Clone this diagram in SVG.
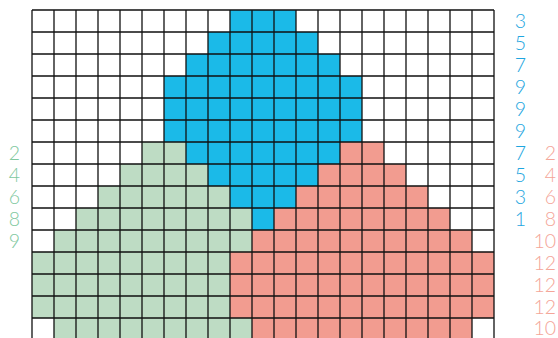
<svg xmlns="http://www.w3.org/2000/svg" width="558" height="338" viewBox="0 0 558 338">
<style>
.b{fill:#1BBAE8}
.g{fill:#BEDCC4}
.r{fill:#F29C90}
.grid{fill:none;stroke:#111;stroke-width:1.3}
text{font-family:"Lato","Liberation Sans",sans-serif;font-weight:300;font-size:19.5px;text-anchor:end}
.tb{fill:#1EA6E0}
.tg{fill:#80C89E}
.tr{fill:#F4A598}
</style>
<rect width="558" height="338" fill="#fff"/>
<g id="blue">
<rect class="b" x="230" y="10" width="66" height="22"/>
<rect class="b" x="208" y="32" width="110" height="22"/>
<rect class="b" x="186" y="54" width="154" height="22"/>
<rect class="b" x="164" y="76" width="198" height="66"/>
<rect class="b" x="186" y="142" width="154" height="22"/>
<rect class="b" x="208" y="164" width="110" height="22"/>
<rect class="b" x="230" y="186" width="66" height="22"/>
<rect class="b" x="252" y="208" width="22" height="22"/>
</g>
<g id="green">
<rect class="g" x="142" y="142" width="44" height="22"/>
<rect class="g" x="120" y="164" width="88" height="22"/>
<rect class="g" x="98" y="186" width="132" height="22"/>
<rect class="g" x="76" y="208" width="176" height="22"/>
<rect class="g" x="54" y="230" width="198" height="22"/>
<rect class="g" x="32" y="252" width="198" height="66"/>
<rect class="g" x="54" y="318" width="198" height="22"/>
</g>
<g id="red">
<rect class="r" x="340" y="142" width="44" height="22"/>
<rect class="r" x="318" y="164" width="88" height="22"/>
<rect class="r" x="296" y="186" width="132" height="22"/>
<rect class="r" x="274" y="208" width="176" height="22"/>
<rect class="r" x="252" y="230" width="220" height="22"/>
<rect class="r" x="230" y="252" width="264" height="66"/>
<rect class="r" x="252" y="318" width="220" height="22"/>
</g>
<g id="grid">
<path class="grid" d="M32 10V338M54 10V338M76 10V338M98 10V338M120 10V338M142 10V338M164 10V338M186 10V338M208 10V338M230 10V338M252 10V338M274 10V338M296 10V338M318 10V338M340 10V338M362 10V338M384 10V338M406 10V338M428 10V338M450 10V338M472 10V338M494 10V338
M32 10H494M32 32H494M32 54H494M32 76H494M32 98H494M32 120H494M32 142H494M32 164H494M32 186H494M32 208H494M32 230H494M32 252H494M32 274H494M32 296H494M32 318H494"/>
</g>
<g id="labels-blue" class="tb">
<text x="526" y="28">3</text>
<text x="526" y="50">5</text>
<text x="526" y="72">7</text>
<text x="526" y="94">9</text>
<text x="526" y="116">9</text>
<text x="526" y="138">9</text>
<text x="526" y="160">7</text>
<text x="526" y="182">5</text>
<text x="526" y="204">3</text>
<text x="526" y="226">1</text>
</g>
<g id="labels-red" class="tr">
<text x="556" y="160">2</text>
<text x="556" y="182">4</text>
<text x="556" y="204">6</text>
<text x="556" y="226">8</text>
<text x="556" y="248">10</text>
<text x="556" y="270">12</text>
<text x="556" y="292">12</text>
<text x="556" y="314">12</text>
<text x="556" y="335">10</text>
</g>
<g id="labels-green" class="tg">
<text x="20" y="160">2</text>
<text x="20" y="182">4</text>
<text x="20" y="204">6</text>
<text x="20" y="226">8</text>
<text x="20" y="248">9</text>
</g>
</svg>
